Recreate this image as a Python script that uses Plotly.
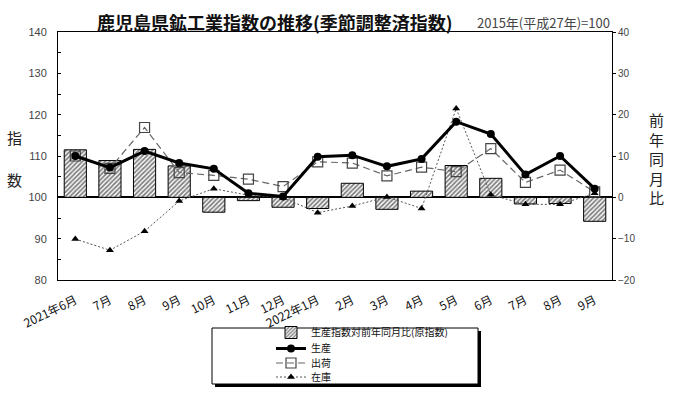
import plotly.graph_objects as go

months = ["2021年6月", "7月", "8月", "9月", "10月", "11月", "12月", "2022年1月",
          "2月", "3月", "4月", "5月", "6月", "7月", "8月", "9月"]
yoy = [11.5, 8.9, 11.6, 7.6, -3.6, -0.8, -2.4, -2.7, 3.4, -2.9, 1.5, 7.7, 4.6, -1.6, -1.5, -5.8]
production = [110.0, 107.2, 111.2, 108.3, 106.9, 101.0, 100.2, 109.8, 110.2, 107.5, 109.3, 118.3, 115.3, 105.5, 110.0, 102.1]
shipments = [110.0, 107.0, 116.9, 106.0, 105.3, 104.4, 102.6, 108.6, 108.3, 105.2, 107.3, 106.2, 111.8, 103.6, 106.6, 101.3]
inventory = [89.9, 87.2, 91.8, 99.1, 102.1, 100.5, 99.9, 96.3, 97.9, 100.1, 97.3, 121.5, 100.6, 98.3, 98.3, 101.0]

x = list(range(len(months)))

L, R, T, B = 58, 88, 32, 114
W, H = 700, 394
PW, PH = W - L - R, H - T - B


def px(v):
    return (v - L) / PW


def py(v):
    return (H - B - v) / PH


JP = "Noto Sans CJK JP"

fig = go.Figure()

fig.add_trace(go.Bar(
    x=x, y=yoy, name="生産指数対前年同月比(原指数)", yaxis="y", width=0.64,
    marker=dict(color="white", line=dict(color="black", width=1),
                pattern=dict(shape="/", fgcolor="black", bgcolor="white", size=3.2, solidity=0.55)),
    legend="legend",
))
fig.add_trace(go.Scatter(
    x=x, y=inventory, name="在庫", yaxis="y2", mode="lines+markers",
    line=dict(color="#555", width=1, dash="2px,2px"),
    marker=dict(symbol="triangle-up", size=7, color="black"),
    legend="legend4",
))
fig.add_trace(go.Scatter(
    x=x, y=shipments, name="出荷", yaxis="y2", mode="lines+markers",
    line=dict(color="#666", width=1.2, dash="7px,4px"),
    marker=dict(symbol="square-open", size=10, color="#444", line=dict(width=1.2)),
    legend="legend3",
))
fig.add_trace(go.Scatter(
    x=x, y=production, name="生産", yaxis="y2", mode="lines+markers",
    line=dict(color="black", width=3),
    marker=dict(symbol="circle", size=8, color="black"),
    legend="legend2",
))

leg_common = dict(xanchor="left", yanchor="middle", bgcolor="rgba(0,0,0,0)",
                  font=dict(family=JP, size=10, color="#111"), borderwidth=0)
legend_y = [332.5, 348.5, 363, 377]

layout_legends = {}
for i, key in enumerate(["legend", "legend2", "legend3", "legend4"]):
    layout_legends[key] = dict(x=px(271), y=py(legend_y[i]), **leg_common)

shapes = [
    dict(type="rect", xref="paper", yref="paper", x0=px(215), x1=px(481), y0=py(387), y1=py(331),
         fillcolor="black", line=dict(width=0), layer="above"),
    dict(type="rect", xref="paper", yref="paper", x0=px(212), x1=px(478), y0=py(384), y1=py(328),
         fillcolor="white", line=dict(color="black", width=1), layer="above"),
]

annotations = [
    dict(text="<b>鹿児島県鉱工業指数の推移(季節調整済指数)</b>", xref="paper", yref="paper",
         x=px(95), y=py(22), xanchor="left", yanchor="middle", showarrow=False,
         font=dict(family=JP, size=18, color="#111")),
    dict(text="2015年(平成27年)=100", xref="paper", yref="paper",
         x=px(475), y=py(23), xanchor="left", yanchor="middle", showarrow=False,
         font=dict(family=JP, size=13, color="#444")),
    dict(text="指", xref="paper", yref="paper", x=px(15), y=py(137), xanchor="center", yanchor="middle",
         showarrow=False, font=dict(family=JP, size=15, color="#222")),
    dict(text="数", xref="paper", yref="paper", x=px(15), y=py(179), xanchor="center", yanchor="middle",
         showarrow=False, font=dict(family=JP, size=15, color="#222")),
    dict(text="前<br>年<br>同<br>月<br>比", xref="paper", yref="paper", x=px(656), y=py(158),
         xanchor="center", yanchor="middle", showarrow=False,
         font=dict(family=JP, size=15, color="#222")),
]

fig.update_layout(
    width=W, height=H,
    margin=dict(l=L, r=R, t=T, b=B, autoexpand=False),
    paper_bgcolor="white", plot_bgcolor="white",
    showlegend=True,
    bargap=0.36,
    xaxis=dict(
        tickmode="array", tickvals=x, ticktext=months, range=[-0.5, len(months) - 0.5],
        tickangle=-26, tickfont=dict(family=JP, size=12, color="#111"),
        showline=True, linecolor="black", linewidth=1, mirror=True,
        showgrid=False, zeroline=False, ticks="", automargin=False,
        ticklabelstandoff=8,
    ),
    yaxis=dict(
        side="right", range=[-20, 40], dtick=10, showgrid=False,
        zeroline=True, zerolinecolor="black", zerolinewidth=1.5,
        showline=True, linecolor="black", linewidth=1,
        ticks="outside", ticklen=3, tickcolor="black",
        tickfont=dict(family="Liberation Sans", size=10, color="#444"),
        tickformat="d", automargin=False,
    ),
    yaxis2=dict(
        overlaying="y", side="left", range=[80, 140], dtick=10, showgrid=False,
        zeroline=False, showline=True, linecolor="black", linewidth=1,
        ticks="inside", ticklen=3, tickcolor="black",
        minor=dict(ticks="inside", ticklen=3, dtick=5, tickcolor="black"),
        tickfont=dict(family="Liberation Sans", size=11, color="#444"),
        ticklabelstandoff=8, automargin=False,
    ),
    shapes=shapes,
    annotations=annotations,
    **layout_legends,
)

fig.write_html(
    "out.html",
    config={"displayModeBar": False},
    post_script="document.body.style.margin='0px';document.body.style.overflow='hidden';",
)
